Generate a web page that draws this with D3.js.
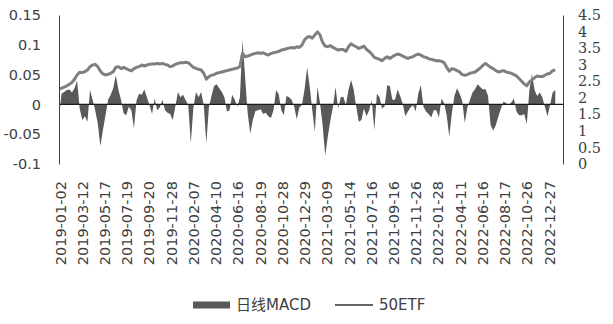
<!DOCTYPE html>
<html>
<head>
<meta charset="utf-8">
<script src="https://cdn.jsdelivr.net/npm/d3@7"></script>
<style>
  body { margin: 0; background: #fff; }
</style>
</head>
<body>
<div id="chart-area"></div>
<script>
const WIDTH = 613;
const HEIGHT = 324;
const PLOT = {left: 59, right: 563, top: 15, bottom: 164};

// trading days between two date labels, and between two sampled points
const LABEL_STEP = 43;
const SAMPLE_STEP = 5;
const LAST_INDEX = 975;

const dateLabels = ['2019-01-02', '2019-03-12', '2019-05-17', '2019-07-19', '2019-09-20',
  '2019-11-28', '2020-02-07', '2020-04-10', '2020-06-16', '2020-08-19', '2020-10-28',
  '2020-12-29', '2021-03-09', '2021-05-14', '2021-07-16', '2021-09-16', '2021-11-26',
  '2022-01-28', '2022-04-11', '2022-06-16', '2022-08-17', '2022-10-26', '2022-12-27'];

const macdTicks = [-0.1, -0.05, 0, 0.05, 0.1, 0.15];
const etfTicks = [0, 0.5, 1, 1.5, 2, 2.5, 3, 3.5, 4, 4.5];

// 日线MACD, one value every SAMPLE_STEP trading days
const macd = [
  -0.020, 0.018, 0.021, 0.024, 0.025, 0.020, 0.027, 0.040, -0.007, -0.026,
  -0.020, -0.029, 0.024, 0.008, -0.010, -0.032, -0.070, -0.043, -0.018, 0.008,
  0.016, 0.027, 0.049, 0.024, 0.008, -0.015, -0.018, -0.004, -0.010, -0.040,
  0.007, 0.018, 0.016, 0.025, 0.012, -0.001, -0.016, 0.010, -0.010, -0.005,
  0.008, -0.010, -0.014, -0.016, -0.026, -0.004, 0.021, 0.012, 0.016, 0.007,
  -0.001, -0.065, -0.005, 0.021, 0.012, 0.021, -0.001, -0.065, -0.005, 0.014,
  0.031, 0.034, 0.027, 0.021, 0.012, -0.012, -0.010, 0.016, 0.008, -0.004,
  0.012, 0.108, 0.046, -0.015, -0.049, -0.026, -0.011, -0.010, -0.008, -0.016,
  -0.014, -0.020, -0.023, -0.010, 0.024, 0.017, -0.010, -0.018, 0.014, 0.012,
  0.008, -0.004, -0.025, -0.005, -0.001, 0.025, 0.062, 0.030, -0.010, -0.046,
  0.030, 0.002, -0.035, -0.086, -0.054, -0.027, -0.004, 0.029, -0.007, 0.012,
  0.013, -0.001, 0.024, 0.041, 0.025, -0.004, -0.029, -0.026, -0.007, -0.020,
  -0.010, 0.007, -0.043, 0.018, 0.012, -0.007, -0.003, 0.032, 0.031, 0.008,
  0.008, 0.025, 0.014, 0.001, -0.020, -0.012, -0.005, -0.001, -0.012, 0.018,
  0.032, -0.004, -0.012, -0.016, -0.022, -0.010, -0.010, -0.022, 0.010, 0.002,
  -0.018, -0.054, -0.015, 0.014, 0.027, 0.018, 0.006, -0.031, -0.005, 0.008,
  0.020, 0.026, 0.034, 0.029, 0.025, 0.026, 0.014, -0.035, -0.044, -0.035,
  -0.020, -0.007, 0.005, 0.002, -0.001, 0.003, 0.010, -0.012, -0.018, -0.018,
  -0.016, -0.033, 0.024, 0.051, 0.024, 0.014, 0.020, 0.012, -0.004, -0.020,
  -0.001, 0.020, 0.024
];

// 50ETF close, same sampling
const etf = [
  2.27, 2.29, 2.32, 2.36, 2.41, 2.46, 2.56, 2.69, 2.77, 2.76,
  2.79, 2.84, 2.94, 2.99, 3.01, 2.94, 2.81, 2.72, 2.69, 2.71,
  2.74, 2.79, 2.92, 2.94, 2.88, 2.92, 2.88, 2.84, 2.81, 2.88,
  2.92, 2.94, 2.99, 2.96, 2.99, 3.01, 3.02, 3.02, 3.04, 3.02,
  3.04, 3.01, 2.99, 2.94, 2.96, 3.01, 3.04, 3.06, 3.06, 3.07,
  3.06, 2.99, 2.92, 2.89, 2.86, 2.84, 2.74, 2.56, 2.64, 2.68,
  2.70, 2.74, 2.76, 2.78, 2.80, 2.82, 2.84, 2.86, 2.88, 2.90,
  2.94, 3.34, 3.24, 3.26, 3.29, 3.32, 3.34, 3.36, 3.34, 3.36,
  3.32, 3.29, 3.34, 3.36, 3.38, 3.40, 3.44, 3.46, 3.48, 3.50,
  3.52, 3.50, 3.54, 3.52, 3.59, 3.75, 3.83, 3.85, 3.80, 3.90,
  3.99, 3.90, 3.67, 3.56, 3.54, 3.58, 3.52, 3.48, 3.44, 3.46,
  3.46, 3.40, 3.54, 3.63, 3.58, 3.54, 3.49, 3.52, 3.56, 3.46,
  3.40, 3.32, 3.22, 3.19, 3.16, 3.12, 3.19, 3.24, 3.19, 3.24,
  3.29, 3.32, 3.30, 3.26, 3.22, 3.19, 3.22, 3.24, 3.29, 3.32,
  3.29, 3.24, 3.22, 3.18, 3.16, 3.14, 3.12, 3.12, 3.10, 3.06,
  2.92, 2.80, 2.88, 2.86, 2.82, 2.78, 2.70, 2.68, 2.70, 2.74,
  2.76, 2.78, 2.84, 2.90, 2.98, 3.04, 2.98, 2.92, 2.88, 2.82,
  2.78, 2.80, 2.82, 2.78, 2.76, 2.74, 2.70, 2.66, 2.58, 2.50,
  2.42, 2.36, 2.48, 2.54, 2.60, 2.66, 2.64, 2.64, 2.68, 2.72,
  2.74, 2.82, 2.84
];

const svg = d3.select('#chart-area').append('svg')
  .attr('width', WIDTH)
  .attr('height', HEIGHT);

const x = d3.scaleLinear()
  .domain([0, LAST_INDEX])
  .range([PLOT.left, PLOT.right]);
const yLeft = d3.scaleLinear()
  .domain([-0.1, 0.15])
  .range([PLOT.bottom, PLOT.top]);
const yRight = d3.scaleLinear()
  .domain([0, 4.5])
  .range([PLOT.bottom, PLOT.top]);

// MACD histogram as filled area around zero
const macdArea = d3.area()
  .x((d, i) => x(i * SAMPLE_STEP))
  .y0(yLeft(0))
  .y1(d => yLeft(d));
svg.append('path')
  .datum(macd)
  .attr('d', macdArea)
  .attr('fill', '#595959');

// zero line
svg.append('line')
  .attr('x1', PLOT.left)
  .attr('x2', PLOT.right)
  .attr('y1', yLeft(0))
  .attr('y2', yLeft(0))
  .attr('stroke', '#1a1a1a')
  .attr('stroke-width', 1.3);

const etfLine = d3.line()
  .x((d, i) => x(i * SAMPLE_STEP))
  .y(d => yRight(d));
svg.append('path')
  .datum(etf)
  .attr('d', etfLine)
  .attr('fill', 'none')
  .attr('stroke', '#7f7f7f')
  .attr('stroke-width', 3)
  .attr('stroke-linejoin', 'round');

// left axis
const leftAxis = svg.append('g')
  .attr('transform', `translate(${ PLOT.left }, 0)`)
  .call(d3.axisLeft(yLeft)
    .tickValues(macdTicks)
    .tickFormat(d => String(d))
    .tickSize(0)
    .tickPadding(18));
leftAxis.select('.domain').attr('stroke', '#404040');
leftAxis.selectAll('text')
  .attr('font-family', 'DejaVu Sans')
  .attr('font-size', 14.5)
  .attr('fill', '#404040');

// right axis
const rightAxis = svg.append('g')
  .attr('transform', `translate(${ PLOT.right }, 0)`)
  .call(d3.axisRight(yRight)
    .tickValues(etfTicks)
    .tickFormat(d => String(d))
    .tickSize(0)
    .tickPadding(15));
rightAxis.select('.domain').attr('stroke', '#404040');
rightAxis.selectAll('text')
  .attr('font-family', 'DejaVu Serif')
  .attr('font-size', 14.5)
  .attr('fill', '#404040');

// date labels
const bottomAxis = svg.append('g')
  .attr('transform', 'translate(0, 181)')
  .call(d3.axisBottom(x)
    .tickValues(dateLabels.map((d, i) => i * LABEL_STEP))
    .tickFormat((d, i) => dateLabels[i])
    .tickSize(0));
bottomAxis.select('.domain').remove();
bottomAxis.selectAll('text')
  .attr('transform', 'rotate(-90)')
  .attr('text-anchor', 'end')
  .attr('x', 0)
  .attr('y', 1)
  .attr('dy', '0.35em')
  .attr('font-family', 'DejaVu Sans')
  .attr('font-size', 14.5)
  .attr('fill', '#404040');

// legend
const legend = svg.append('g')
  .attr('font-family', 'DejaVu Sans, Noto Sans CJK SC')
  .attr('font-size', 15)
  .attr('fill', '#404040');
legend.append('rect')
  .attr('x', 193)
  .attr('y', 301.5)
  .attr('width', 37)
  .attr('height', 7)
  .attr('fill', '#595959');
legend.append('text')
  .attr('x', 236)
  .attr('y', 305)
  .attr('dy', '0.35em')
  .text('日线MACD');
legend.append('line')
  .attr('x1', 335)
  .attr('x2', 373)
  .attr('y1', 305)
  .attr('y2', 305)
  .attr('stroke', '#666')
  .attr('stroke-width', 2);
legend.append('text')
  .attr('x', 379)
  .attr('y', 305)
  .attr('dy', '0.35em')
  .text('50ETF');
</script>
</body>
</html>
